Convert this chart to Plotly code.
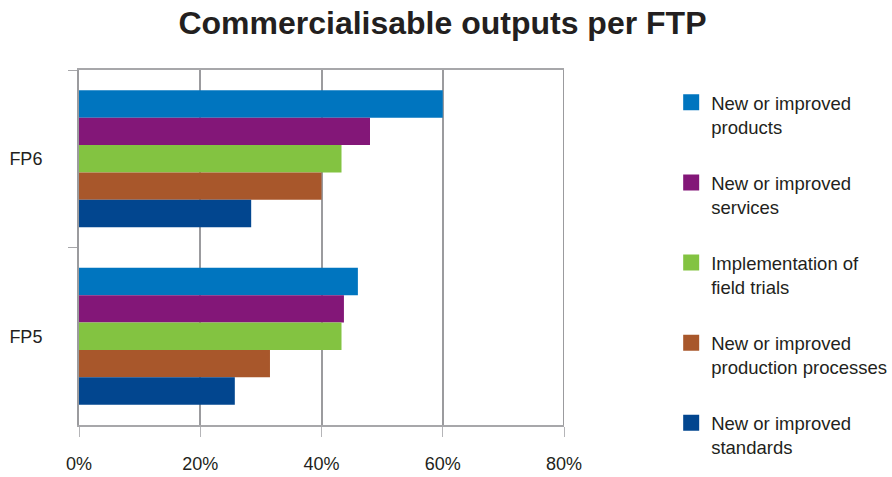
import plotly.graph_objects as go

# Framework programmes shown on the category axis (top to bottom)
programmes = ["FP6", "FP5"]

# Output types and their bar colours
output_types = [
    "New or improved<br>products",
    "New or improved<br>services",
    "Implementation of<br>field trials",
    "New or improved<br>production processes",
    "New or improved<br>standards",
]
colours = ["#0075BF", "#831778", "#83C341", "#A8572B", "#02468F"]

# Share of projects reporting each output (%), ordered as programmes
products = [60.0, 46.0]
services = [48.0, 43.7]
field_trials = [43.3, 43.3]
production_processes = [40.0, 31.5]
standards = [28.4, 25.7]

series = [products, services, field_trials, production_processes, standards]

FONT = "Liberation Sans, Arial, Helvetica, sans-serif"
TEXT = "#231F20"
GRID = "#9B9B9E"

fig = go.Figure()

for name, values, colour in zip(output_types, series, colours):
    fig.add_trace(go.Bar(
        y=programmes,
        x=values,
        orientation="h",
        name=name,
        marker=dict(color=colour, line=dict(width=0)),
        showlegend=False,
    ))

# Larger square swatches for the legend
for i, (name, colour) in enumerate(zip(output_types, colours)):
    fig.add_trace(go.Scatter(
        x=[None], y=[None],
        mode="markers",
        name=name,
        legendgroup=f"g{i}",
        marker=dict(symbol="square", size=17, color=colour),
        showlegend=True,
    ))

fig.update_layout(
    width=892,
    height=477,
    margin=dict(l=79, r=328, t=70, b=52, autoexpand=False),
    paper_bgcolor="white",
    plot_bgcolor="white",
    font=dict(family=FONT, size=17, color=TEXT),
    title=dict(
        text="<b>Commercialisable outputs per FTP</b>",
        x=0.496, xanchor="center",
        y=0.953, yanchor="middle",
        font=dict(family=FONT, size=32, color=TEXT),
    ),
    barmode="group",
    bargap=0.228,
    bargroupgap=0,
    legend=dict(
        x=1.221, xanchor="left",
        y=0.961, yanchor="top",
        valign="top",
        tracegroupgap=29,
        maxheight=460,
        font=dict(family=FONT, size=18.5, color=TEXT),
        bgcolor="rgba(0,0,0,0)",
    ),
)

fig.update_xaxes(
    range=[0, 80],
    tickvals=[0, 20, 40, 60, 80],
    ticktext=["0%", "20%", "40%", "60%", "80%"],
    automargin=False,
    showgrid=True,
    gridcolor=GRID,
    gridwidth=2,
    zeroline=False,
    showline=True,
    linecolor="#A7A7AA",
    linewidth=1.5,
    mirror=True,
    ticks="outside",
    ticklen=10,
    tickcolor="#B5B5B8",
    tickwidth=1,
    ticklabelstandoff=12,
    tickfont=dict(family=FONT, size=18, color=TEXT),
)

fig.update_yaxes(
    type="category",
    categoryorder="array",
    categoryarray=programmes,
    autorange="reversed",
    automargin=False,
    showgrid=False,
    zeroline=False,
    showline=True,
    linecolor=GRID,
    linewidth=2,
    ticks="outside",
    tickson="boundaries",
    ticklen=9,
    tickcolor="#A7A7AA",
    tickwidth=1,
    ticklabelstandoff=31,
    tickfont=dict(family=FONT, size=18, color=TEXT),
)

# Right-hand frame line at 80%
fig.add_shape(type="line", xref="x", yref="paper", x0=80, x1=80, y0=0, y1=1,
              line=dict(color=GRID, width=2), layer="above")

fig.write_html("out.html")
